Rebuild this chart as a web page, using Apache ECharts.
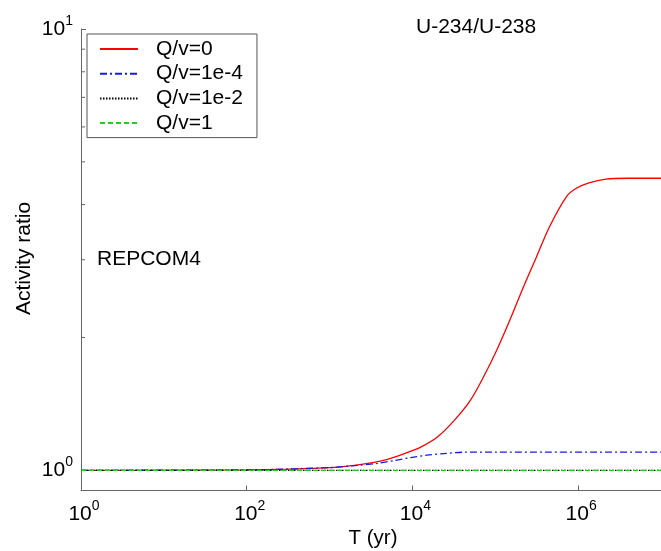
<!DOCTYPE html>
<html>
<head>
<meta charset="utf-8">
<script src="https://cdn.jsdelivr.net/npm/echarts@6/dist/echarts.min.js"></script>
<style>
html,body{margin:0;padding:0;background:#fff;}
#c{width:661px;height:551px;}
</style>
</head>
<body>
<div id="c"></div>
<script>
// ---- data ----
const seriesNames = ['Q/v=0', 'Q/v=1e-4', 'Q/v=1e-2', 'Q/v=1'];
const timeRed = [1, 10, 100, 300, 1000, 2000, 3000, 5000, 8000, 12600, 20000, 32000, 50000, 72000, 104000, 150000, 218000, 314000, 450000, 720000, 950000, 1350000, 2160000, 4000000, 10000000];
const ratioRed = [1.0, 1.0, 1.002, 1.006, 1.014, 1.026, 1.038, 1.059, 1.091, 1.129, 1.19, 1.298, 1.441, 1.627, 1.871, 2.19, 2.60, 3.045, 3.56, 4.167, 4.355, 4.48, 4.57, 4.59, 4.59];
const timeBlue = [1, 100, 1000, 2000, 3800, 6000, 9500, 15000, 24000, 42000, 100000, 10000000];
const ratioBlue = [1.0, 1.002, 1.014, 1.025, 1.037, 1.052, 1.069, 1.082, 1.091, 1.099, 1.10, 1.10];
const timeFlat = [1, 10000000];
const ratioBlack = [1.0, 1.0];
const ratioGreen = [1.0, 1.0];
const yMinorTicks = [2, 3, 4, 5, 6, 7, 8, 9];
const xRange = [1, 10000000];
const yRange = [0.9, 10];

const FONT = 'Liberation Sans, Arial, sans-serif';
function zip(a, b) { return a.map((v, i) => [v, b[i]]); }
function powLabel(v) {
  const e = Math.log10(v);
  const n = Math.round(e);
  if (Math.abs(e - n) > 1e-6) return '';
  return '{b|10}{s|' + n + '}';
}
const richX = {
  b: { fontSize: 21, lineHeight: 30, fontFamily: FONT, color: '#000', padding: [0, 0, 0, 6] },
  s: { fontSize: 14, lineHeight: 14, fontFamily: FONT, color: '#000', verticalAlign: 'top' }
};
const richY = {
  b: { fontSize: 21, lineHeight: 30, fontFamily: FONT, color: '#000' },
  s: { fontSize: 14, lineHeight: 14, fontFamily: FONT, color: '#000', verticalAlign: 'top' }
};

const chart = echarts.init(document.getElementById('c'), null, { renderer: 'canvas' });
chart.setOption({
  animation: false,
  backgroundColor: '#fff',
  grid: { left: 81, top: 29, width: 584.5, height: 461.5, containLabel: false },
  xAxis: {
    type: 'log', logBase: 100, min: xRange[0], max: xRange[1],
    axisLine: { lineStyle: { color: '#666', width: 1 } },
    axisTick: { inside: true, length: 5, lineStyle: { color: '#666' } },
    axisLabel: { margin: 9, showMaxLabel: false, formatter: powLabel, rich: richX },
    splitLine: { show: false }
  },
  yAxis: {
    type: 'log', logBase: 10, min: yRange[0], max: yRange[1],
    axisLine: { show: true, lineStyle: { color: '#666', width: 1 } },
    axisTick: { show: true, inside: true, length: 5, lineStyle: { color: '#666' } },
    axisLabel: { margin: 8, showMinLabel: false, formatter: powLabel, rich: richY },
    splitLine: { show: false }
  },
  legend: {
    data: seriesNames,
    orient: 'vertical', left: 87, top: 34,
    padding: [4.5, 14, 4, 12],
    itemGap: 3.7, itemWidth: 38, itemHeight: 14,
    borderColor: '#555', borderWidth: 1, backgroundColor: '#fff',
    itemStyle: { opacity: 0 },
    textStyle: { fontSize: 21, lineHeight: 21, fontFamily: FONT, color: '#000', padding: [0, 0, 0, 13] }
  },
  graphic: [
    { type: 'text', left: 416, top: 16.5, style: { text: 'U-234/U-238', font: '21px ' + FONT, fill: '#000' } },
    { type: 'text', left: 97, top: 249, style: { text: 'REPCOM4', font: '21px ' + FONT, fill: '#000' } },
    { type: 'text', x: 24, y: 258.5, rotation: Math.PI / 2,
      style: { text: 'Activity ratio', font: '21px ' + FONT, fill: '#000', textAlign: 'center', textVerticalAlign: 'middle' } },
    { type: 'text', x: 373, y: 538,
      style: { text: 'T (yr)', font: '20.5px ' + FONT, fill: '#000', textAlign: 'center', textVerticalAlign: 'middle' } }
  ],
  series: [
    { name: seriesNames[0], type: 'line', data: zip(timeRed, ratioRed), symbol: 'none', smooth: 0.3,
      color: '#ff0000', lineStyle: { color: '#ff0000', width: 1.3, type: 'solid' } },
    { name: seriesNames[1], type: 'line', data: zip(timeBlue, ratioBlue), symbol: 'none', smooth: 0.3,
      color: '#1a1ae6', lineStyle: { color: '#1a1ae6', width: 1.3, type: [7, 3, 2, 3] } },
    { name: seriesNames[2], type: 'line', data: zip(timeFlat, ratioBlack), symbol: 'none',
      color: '#000000', lineStyle: { color: '#000000', width: 1.2, type: [1.5, 1.5] } },
    { name: seriesNames[3], type: 'line', data: zip(timeFlat, ratioGreen), symbol: 'none',
      color: '#22cc22', lineStyle: { color: '#22cc22', width: 1.3, type: [5, 3] } },
    { name: 'minorTicks', type: 'custom', silent: true, clip: false,
      data: yMinorTicks.map(v => [xRange[0], v]),
      renderItem: function (params, api) {
        const p = api.coord([api.value(0), api.value(1)]);
        return { type: 'line', shape: { x1: p[0], y1: p[1], x2: p[0] + 4, y2: p[1] },
                 style: { stroke: '#666', lineWidth: 1 } };
      } }
  ]
});
</script>
</body>
</html>
